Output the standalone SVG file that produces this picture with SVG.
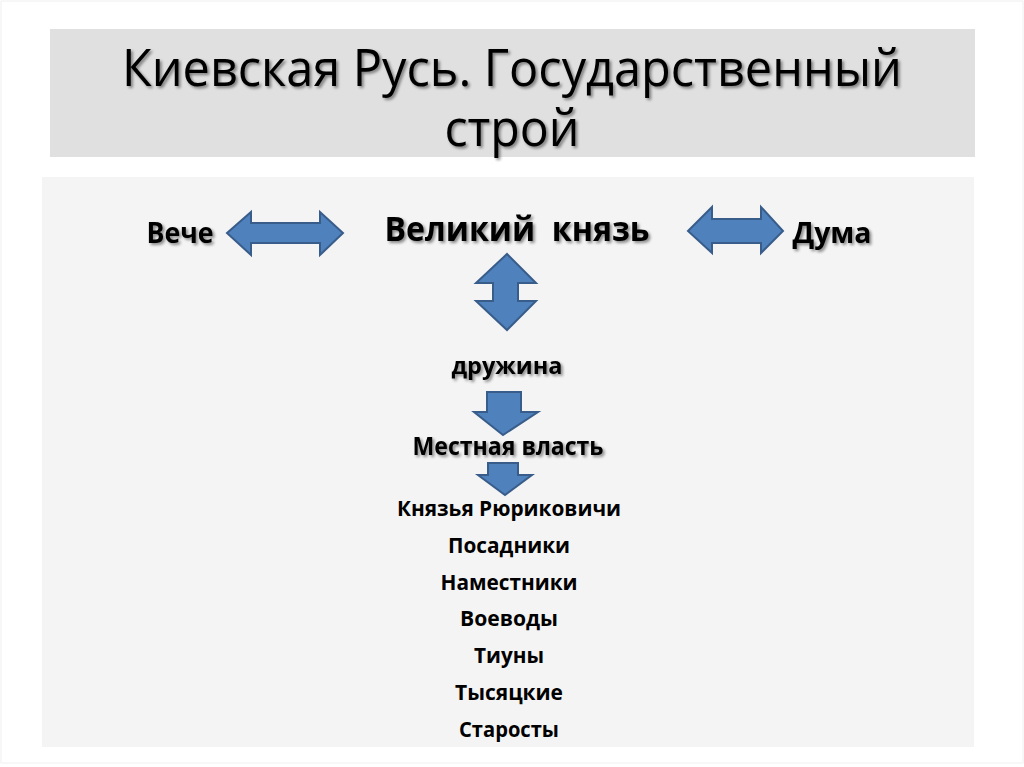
<svg xmlns="http://www.w3.org/2000/svg" width="1024" height="767" viewBox="0 0 1024 767">
<defs>
<filter id="sh" x="-10%" y="-30%" width="120%" height="160%">
<feGaussianBlur in="SourceAlpha" stdDeviation="1.5"/>
<feOffset dx="2" dy="2" result="b"/>
<feComponentTransfer><feFuncA type="linear" slope="0.45"/></feComponentTransfer>
<feMerge><feMergeNode/><feMergeNode in="SourceGraphic"/></feMerge>
</filter>
</defs>
<style>
.t{font-family:"Open Sans","Liberation Sans",sans-serif;fill:#000;text-anchor:middle}
.title{font-size:52px;font-weight:400}
.b{font-weight:700}
.arr{fill:#4f81bd;stroke:#385d8a;stroke-width:2;stroke-linejoin:miter}
</style>
<rect x="0" y="0" width="1024" height="767" fill="#ffffff"/>
<rect x="1" y="1" width="1022" height="762" fill="none" stroke="#f0f0f0" stroke-width="1"/>
<rect x="50" y="29" width="925" height="128" fill="#e0e0e0"/>
<rect x="42" y="177" width="932" height="570" fill="#f4f4f4"/>
<g id="title" filter="url(#sh)">
<text class="t title" x="512" y="86" textLength="780" lengthAdjust="spacingAndGlyphs">Киевская Русь. Государственный</text>
<text class="t title" x="512" y="146" textLength="135" lengthAdjust="spacingAndGlyphs">строй</text>
</g>
<g id="connectors">
<path class="arr" d="M227,233 L251,212 L251,223 L320,223 L320,212 L343,233 L320,255 L320,243 L251,243 L251,255 Z"/>
<path class="arr" d="M688,231 L712,207 L712,219 L761,219 L761,207 L783,231 L761,253 L761,243 L712,243 L712,253 Z"/>
<path class="arr" d="M507,254 L536,283 L518,283 L518,301 L536,301 L507,330 L476,301 L493,301 L493,283 L476,283 Z"/>
<path class="arr" d="M487,392 L521,392 L521,412 L538,412 L503,435 L474,412 L487,412 Z"/>
<path class="arr" d="M488,463 L518,463 L518,475 L532,475 L505,495 L478,475 L488,475 Z"/>
</g>
<g id="veche" filter="url(#sh)"><text class="t b" x="180" y="243" font-size="29" textLength="67" lengthAdjust="spacingAndGlyphs">Вече</text></g>
<g id="knyaz" filter="url(#sh)"><text class="t b" x="517" y="241" font-size="34" textLength="265" lengthAdjust="spacingAndGlyphs" xml:space="preserve">Великий  князь</text></g>
<g id="duma" filter="url(#sh)"><text class="t b" x="832" y="243" font-size="29" textLength="79" lengthAdjust="spacingAndGlyphs">Дума</text></g>
<g id="druzhina" filter="url(#sh)"><text class="t b" x="507" y="374" font-size="24" textLength="111" lengthAdjust="spacingAndGlyphs">дружина</text></g>
<g id="mestnaya" filter="url(#sh)"><text class="t b" x="508" y="455" font-size="25" textLength="191" lengthAdjust="spacingAndGlyphs">Местная власть</text></g>
<g id="list">
<text class="t b" x="509" y="516" font-size="21.5" textLength="224" lengthAdjust="spacingAndGlyphs">Князья Рюриковичи</text>
<text class="t b" x="509" y="553" font-size="21.5" textLength="122" lengthAdjust="spacingAndGlyphs">Посадники</text>
<text class="t b" x="509" y="590" font-size="21.5" textLength="137" lengthAdjust="spacingAndGlyphs">Наместники</text>
<text class="t b" x="509" y="626" font-size="21.5" textLength="98" lengthAdjust="spacingAndGlyphs">Воеводы</text>
<text class="t b" x="509" y="663" font-size="21.5" textLength="70" lengthAdjust="spacingAndGlyphs">Тиуны</text>
<text class="t b" x="509" y="700" font-size="21.5" textLength="108" lengthAdjust="spacingAndGlyphs">Тысяцкие</text>
<text class="t b" x="509" y="737" font-size="21.5" textLength="100" lengthAdjust="spacingAndGlyphs">Старосты</text>
</g>
</svg>
